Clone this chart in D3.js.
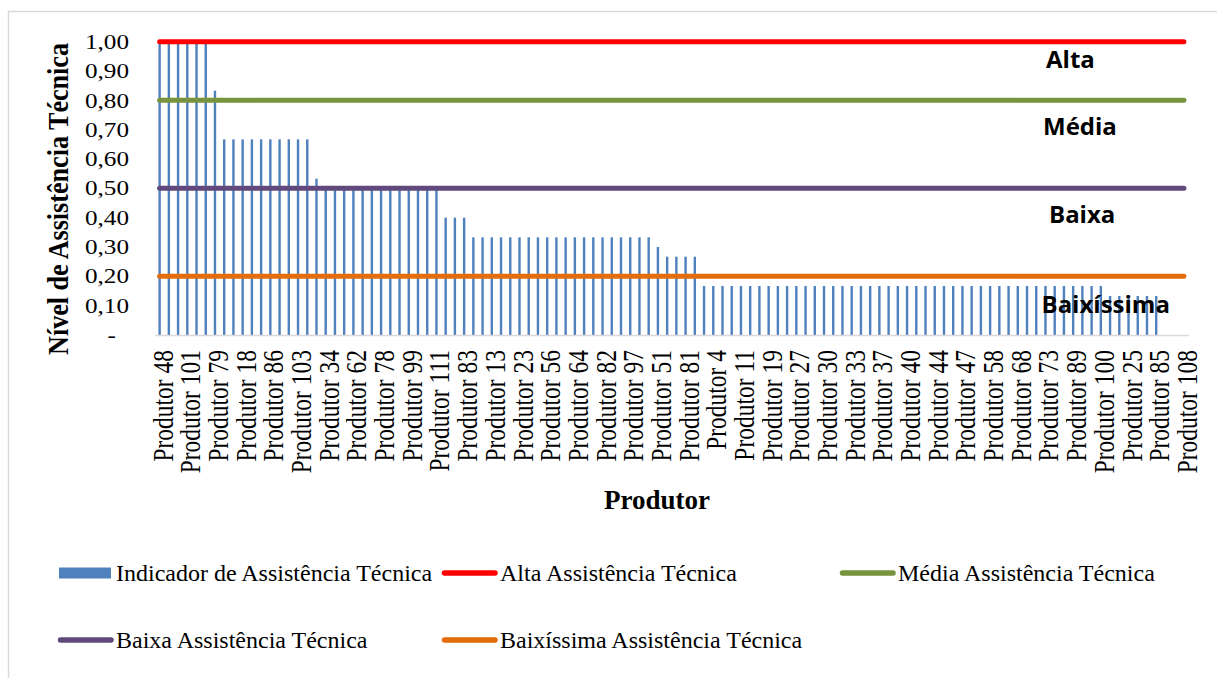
<!DOCTYPE html>
<html>
<head>
<meta charset="utf-8">
<script src="https://cdn.jsdelivr.net/npm/d3@7"></script>
<style>
  body { margin: 0; background: #fff; }
  svg { display: block; }
</style>
</head>
<body>
<div id="chart"></div>
<script>
// Indicador de Assistência Técnica, one value per produtor (112 bars)
var values = [
  1.00, 1.00, 1.00, 1.00, 1.00, 1.00, 0.833, 0.667, 0.667, 0.667,
  0.667, 0.667, 0.667, 0.667, 0.667, 0.667, 0.667, 0.533, 0.50, 0.50,
  0.50, 0.50, 0.50, 0.50, 0.50, 0.50, 0.50, 0.50, 0.50, 0.50,
  0.50, 0.40, 0.40, 0.40, 0.333, 0.333, 0.333, 0.333, 0.333, 0.333,
  0.333, 0.333, 0.333, 0.333, 0.333, 0.333, 0.333, 0.333, 0.333, 0.333,
  0.333, 0.333, 0.333, 0.333, 0.30, 0.267, 0.267, 0.267, 0.267, 0.167,
  0.167, 0.167, 0.167, 0.167, 0.167, 0.167, 0.167, 0.167, 0.167, 0.167,
  0.167, 0.167, 0.167, 0.167, 0.167, 0.167, 0.167, 0.167, 0.167, 0.167,
  0.167, 0.167, 0.167, 0.167, 0.167, 0.167, 0.167, 0.167, 0.167, 0.167,
  0.167, 0.167, 0.167, 0.167, 0.167, 0.167, 0.167, 0.167, 0.167, 0.167,
  0.167, 0.167, 0.167, 0.133, 0.133, 0.133, 0.133, 0.133, 0.133, 0,
  0, 0
];

// Labels shown on the x axis (every third produtor)
var tickLabels = [
  "Produtor 48", "Produtor 101", "Produtor 79", "Produtor 18", "Produtor 86",
  "Produtor 103", "Produtor 34", "Produtor 62", "Produtor 78", "Produtor 99",
  "Produtor 111", "Produtor 83", "Produtor 13", "Produtor 23", "Produtor 56",
  "Produtor 64", "Produtor 82", "Produtor 97", "Produtor 51", "Produtor 81",
  "Produtor 4", "Produtor 11", "Produtor 19", "Produtor 27", "Produtor 30",
  "Produtor 33", "Produtor 37", "Produtor 40", "Produtor 44", "Produtor 47",
  "Produtor 58", "Produtor 68", "Produtor 73", "Produtor 89", "Produtor 100",
  "Produtor 25", "Produtor 85", "Produtor 108"
];

// Threshold line series
var barSeries = "Indicador de Assistência Técnica";
var lineSeries = ["Alta Assistência Técnica", "Média Assistência Técnica",
                  "Baixa Assistência Técnica", "Baixíssima Assistência Técnica"];
var lineValues = [1.00, 0.80, 0.50, 0.20];
var levelNames = ["Alta", "Média", "Baixa", "Baixíssima"];

var yTicks = [0, 0.1, 0.2, 0.3, 0.4, 0.5, 0.6, 0.7, 0.8, 0.9, 1.0];

var lineColors = ["#FF0000", "#77933C", "#604A7B", "#E46C0A"];
var barColor = "#4F81BD";

var W = 1217, H = 678;
var plot = {left: 155, right: 1188.5, top: 41.7, bottom: 335};

var svg = d3.select("#chart")
            .append("svg")
            .attr("width", W)
            .attr("height", H)
            .style("font-family", "'Liberation Serif', 'Times New Roman', serif");

// Chart area border
svg.append("rect")
   .attr("x", 8.5).attr("y", 11.5)
   .attr("width", 1300).attr("height", 700)
   .attr("fill", "#fff")
   .attr("stroke", "#D9D9D9")
   .attr("stroke-width", 1.5);

// Creates the xScale
var xScale = d3.scaleBand()
  .domain(d3.range(values.length))
  .range([plot.left, plot.right])
  .paddingInner(0.74)
  .paddingOuter(0.37);

var xMid = function(i) { return xScale(i) + xScale.bandwidth() / 2; };

// Creates the yScale
var yScale = d3.scaleLinear()
  .domain([0, 1])
  .range([plot.bottom, plot.top]);

// Bars
svg.append("g")
   .selectAll("rect")
   .data(values)
   .enter()
   .append("rect")
   .attr("x", function(d, i) { return xScale(i); })
   .attr("y", function(d) { return yScale(d); })
   .attr("width", xScale.bandwidth())
   .attr("height", function(d) { return yScale(0) - yScale(d); })
   .attr("fill", barColor);

// x axis
var xAxis = d3.axisBottom(xScale)
  .tickValues(d3.range(0, values.length, 3))
  .tickSize(0)
  .tickFormat(function(i) { return tickLabels[i / 3]; });

var xAxisGroup = svg.append("g")
  .attr("transform", "translate(0," + plot.bottom + ")")
  .call(xAxis);

xAxisGroup.select(".domain")
  .attr("stroke", "#D9D9D9")
  .attr("stroke-width", 1.5);

xAxisGroup.selectAll("text")
  .attr("x", 0)
  .attr("y", 13)
  .attr("dy", null)
  .attr("text-anchor", "end")
  .attr("transform", "translate(0,15) rotate(-90) scale(0.81,1)")
  .style("font-family", "'Liberation Serif', serif")
  .style("font-size", "29px")
  .attr("fill", "#000");

// y axis tick labels
var yAxisGroup = svg.append("g");
yAxisGroup.selectAll("text")
  .data(yTicks)
  .enter()
  .append("text")
  .attr("transform", function(d) {
    var x = d === 0 ? 116 : 129;
    return "translate(" + x + "," + yScale(d) + ") scale(1.2,1)";
  })
  .attr("dy", "0.34em")
  .attr("text-anchor", "end")
  .style("font-size", "21px")
  .text(function(d) { return d === 0 ? "-" : d3.format(".2f")(d).replace(".", ","); });

// Threshold lines
var line = d3.line()
  .x(function(i) { return xMid(i); })
  .y(function(i, k, arr) { return yScale(arr.level); });

lineValues.forEach(function(v, k) {
  var idx = d3.range(values.length);
  idx.level = v;
  svg.append("path")
     .attr("d", line(idx))
     .attr("fill", "none")
     .attr("stroke", lineColors[k])
     .attr("stroke-width", 5)
     .attr("stroke-linecap", "round");
});

// Level annotations
var levelPos = [{x: 1046, y: 68.3}, {x: 1043, y: 135}, {x: 1049, y: 222.7}, {x: 1041.5, y: 313}];
svg.append("g")
   .selectAll("text")
   .data(levelNames)
   .enter()
   .append("text")
   .attr("x", function(d, i) { return levelPos[i].x; })
   .attr("y", function(d, i) { return levelPos[i].y; })
   .style("font-family", "'Open Sans', sans-serif")
   .style("font-weight", "bold")
   .style("font-size", "24px")
   .attr("fill", "#000")
   .text(function(d) { return d; });

// Axis titles
svg.append("text")
   .attr("transform", "translate(68,199) rotate(-90) scale(0.87,1)")
   .attr("text-anchor", "middle")
   .style("font-weight", "bold")
   .style("font-size", "30px")
   .text("Nível de Assistência Técnica");

svg.append("text")
   .attr("x", 657)
   .attr("y", 509)
   .attr("text-anchor", "middle")
   .style("font-weight", "bold")
   .style("font-size", "27px")
   .text("Produtor");

// Legend
var legendItems = [
  {name: barSeries, type: "bar", color: barColor, x: 59, y: 573},
  {name: lineSeries[0], type: "line", color: lineColors[0], x: 442, y: 573},
  {name: lineSeries[1], type: "line", color: lineColors[1], x: 840, y: 573},
  {name: lineSeries[2], type: "line", color: lineColors[2], x: 58, y: 640},
  {name: lineSeries[3], type: "line", color: lineColors[3], x: 442, y: 640}
];

var legend = svg.append("g")
  .selectAll("g")
  .data(legendItems)
  .enter()
  .append("g")
  .attr("transform", function(d) { return "translate(" + d.x + "," + d.y + ")"; });

legend.filter(function(d) { return d.type === "bar"; })
  .append("rect")
  .attr("x", 0).attr("y", -5.5)
  .attr("width", 52).attr("height", 11)
  .attr("fill", function(d) { return d.color; });

legend.filter(function(d) { return d.type === "line"; })
  .append("line")
  .attr("x1", 2.5).attr("x2", 53)
  .attr("y1", 0).attr("y2", 0)
  .attr("stroke", function(d) { return d.color; })
  .attr("stroke-width", 5.5)
  .attr("stroke-linecap", "round");

legend.append("text")
  .attr("x", function(d) { return d.type === "bar" ? 57 : 58; })
  .attr("y", 8)
  .style("font-size", "24px")
  .text(function(d) { return d.name; });
</script>
</body>
</html>
